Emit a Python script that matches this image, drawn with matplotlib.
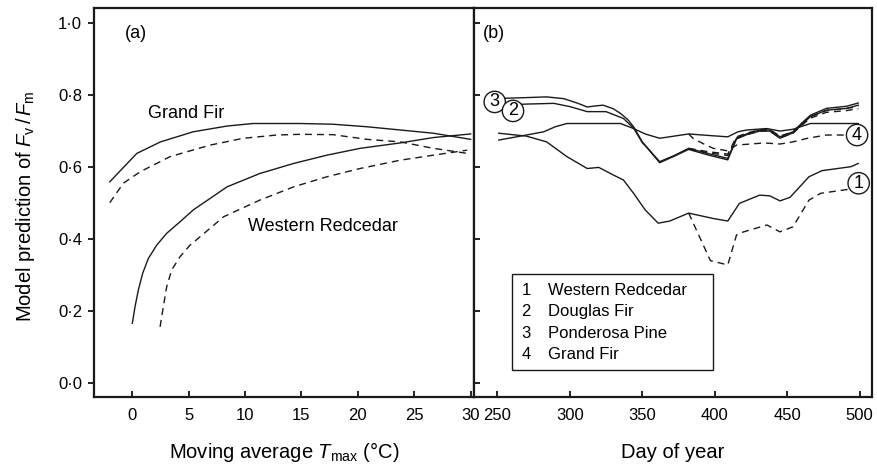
import matplotlib
matplotlib.use("Agg")
import matplotlib.pyplot as plt
from matplotlib.patches import Rectangle
from matplotlib.ticker import FuncFormatter

plt.rcParams['font.family'] = ['Liberation Sans', 'DejaVu Sans']
plt.rcParams['mathtext.fontset'] = 'custom'
plt.rcParams['mathtext.rm'] = 'Liberation Sans'
plt.rcParams['mathtext.it'] = 'Liberation Sans:italic'

# ---------------- Panel (a) data ----------------
gf_solid_t = [-2.0, -1.0, 0.4, 2.5, 5.4, 8.4, 10.7, 14.9, 17.8, 20.8, 23.75, 26.7, 30.0]
gf_solid_v = [0.559, 0.592, 0.638, 0.670, 0.698, 0.714, 0.721, 0.721, 0.719, 0.712, 0.703, 0.694, 0.677]

gf_dash_t = [-2.0, -0.8, 0.7, 3.35, 6.9, 9.85, 12.8, 14.9, 17.8, 20.8, 23.75, 26.7, 29.7]
gf_dash_v = [0.501, 0.555, 0.587, 0.629, 0.661, 0.680, 0.689, 0.691, 0.690, 0.677, 0.670, 0.652, 0.638]

wr_solid_t = [0.0, 0.24, 0.53, 0.92, 1.42, 2.16, 3.05, 4.23, 5.41, 8.4, 11.3, 14.3, 17.25, 20.2, 23.75, 26.7, 30.0]
wr_solid_v = [0.166, 0.212, 0.258, 0.305, 0.346, 0.383, 0.416, 0.448, 0.481, 0.545, 0.582, 0.610, 0.633, 0.652, 0.667, 0.682, 0.692]

wr_dash_t = [2.46, 2.75, 3.05, 3.49, 4.23, 5.12, 6.0, 8.1, 11.3, 14.3, 17.25, 20.2, 23.75, 26.7, 29.7]
wr_dash_v = [0.156, 0.212, 0.268, 0.314, 0.351, 0.383, 0.406, 0.462, 0.508, 0.545, 0.573, 0.596, 0.619, 0.633, 0.647]

# ---------------- Panel (b) data ----------------
pp_days = [254, 270, 284, 296, 305, 312, 318, 323, 330, 335, 340, 344, 350, 353, 362, 372, 382, 395, 409, 415, 422, 431, 438, 445, 454, 460, 466, 477, 491, 499]
pp_solid = [0.791, 0.793, 0.795, 0.790, 0.778, 0.767, 0.770, 0.772, 0.762, 0.749, 0.732, 0.712, 0.670, 0.656, 0.615, 0.632, 0.652, 0.638, 0.624, 0.680, 0.692, 0.703, 0.703, 0.684, 0.698, 0.722, 0.744, 0.763, 0.769, 0.778]
pp_dash_days = [382, 395, 409, 415, 422, 431, 438, 445, 454, 460, 466, 477, 491, 499]
pp_dash = [0.652, 0.643, 0.636, 0.684, 0.694, 0.704, 0.704, 0.686, 0.698, 0.720, 0.740, 0.757, 0.763, 0.768]

df_days = [254, 270, 289, 300, 312, 325, 337, 344, 350, 353, 362, 372, 382, 395, 409, 415, 422, 431, 438, 445, 454, 460, 466, 477, 491, 499]
df_solid = [0.772, 0.775, 0.777, 0.768, 0.754, 0.754, 0.735, 0.708, 0.668, 0.655, 0.612, 0.630, 0.649, 0.634, 0.620, 0.678, 0.690, 0.700, 0.700, 0.680, 0.695, 0.718, 0.740, 0.758, 0.763, 0.772]
df_dash_days = [382, 395, 409, 415, 422, 431, 438, 445, 454, 460, 466, 477, 491, 499]
df_dash = [0.650, 0.640, 0.632, 0.682, 0.690, 0.700, 0.700, 0.682, 0.694, 0.716, 0.736, 0.752, 0.757, 0.762]

gfb_days = [251, 270, 282, 290, 298, 320, 335, 344, 352, 362, 372, 382, 395, 409, 416, 422, 436, 445, 454, 466, 499]
gfb_solid = [0.675, 0.689, 0.698, 0.712, 0.721, 0.721, 0.721, 0.707, 0.692, 0.680, 0.686, 0.692, 0.688, 0.684, 0.698, 0.703, 0.707, 0.700, 0.705, 0.721, 0.721]
gfb_dash_days = [382, 385, 392, 399, 409, 415, 434, 445, 454, 464, 477, 491]
gfb_dash = [0.692, 0.680, 0.665, 0.652, 0.645, 0.661, 0.667, 0.664, 0.670, 0.680, 0.689, 0.689]

wrb_days = [251, 270, 284, 298, 312, 320, 330, 337, 344, 352, 361, 369, 382, 399, 409, 417, 431, 438, 445, 452, 465, 474, 494, 499]
wrb_solid = [0.694, 0.686, 0.670, 0.629, 0.596, 0.599, 0.578, 0.564, 0.527, 0.481, 0.444, 0.450, 0.472, 0.457, 0.450, 0.499, 0.522, 0.520, 0.506, 0.516, 0.573, 0.590, 0.601, 0.610]
wrb_dash_days = [382, 397, 409, 415, 420, 436, 445, 454, 465, 473, 492]
wrb_dash = [0.472, 0.340, 0.328, 0.411, 0.420, 0.439, 0.420, 0.434, 0.508, 0.527, 0.538]

legend_nums = ['1', '2', '3', '4']
legend_names = ['Western Redcedar', 'Douglas Fir', 'Ponderosa Pine', 'Grand Fir']

yticks = [0.0, 0.2, 0.4, 0.6, 0.8, 1.0]
xticks_a = [0, 5, 10, 15, 20, 25, 30]
xticks_b = [250, 300, 350, 400, 450, 500]

# ---------------- Figure ----------------
fig = plt.figure(figsize=(8.77, 4.66), dpi=100)
L, R, B, T = 94/877, 872/877, (466-397)/466, (466-8)/466
mid = 474/877
axa = fig.add_axes([L, B, mid - L, T - B])
axb = fig.add_axes([mid, B, R - mid, T - B])

lw = 1.0
dash = (5, 3.6)
col = '#1a1a1a'

axa.plot(gf_solid_t, gf_solid_v, color=col, lw=lw)
axa.plot(gf_dash_t, gf_dash_v, color=col, lw=lw, dashes=dash)
axa.plot(wr_solid_t, wr_solid_v, color=col, lw=lw)
axa.plot(wr_dash_t, wr_dash_v, color=col, lw=lw, dashes=dash)

axb.plot(pp_days, pp_solid, color=col, lw=lw)
axb.plot(pp_dash_days, pp_dash, color=col, lw=lw, dashes=dash)
axb.plot(df_days, df_solid, color=col, lw=lw)
axb.plot(df_dash_days, df_dash, color=col, lw=lw, dashes=dash)
axb.plot(gfb_days, gfb_solid, color=col, lw=lw)
axb.plot(gfb_dash_days, gfb_dash, color=col, lw=lw, dashes=dash)
axb.plot(wrb_days, wrb_solid, color=col, lw=lw)
axb.plot(wrb_dash_days, wrb_dash, color=col, lw=lw, dashes=dash)

ymin, ymax = -0.039, 1.042
for ax in (axa, axb):
    ax.set_ylim(ymin, ymax)
    ax.set_yticks(yticks)
    for s in ax.spines.values():
        s.set_linewidth(1.6)
        s.set_color(col)
axa.set_xlim(-3.4, 30.3)
axb.set_xlim(233.9, 508.5)
axa.set_xticks(xticks_a)
axb.set_xticks(xticks_b)

fmt = FuncFormatter(lambda v, p: ('%.1f' % v).replace('.', '\u00b7'))
axa.yaxis.set_major_formatter(fmt)
axa.tick_params(axis='y', direction='out', length=4, width=1.2, pad=4.5, labelsize=12)
axa.tick_params(axis='x', direction='in', length=4.5, width=1.2, pad=8, labelsize=12)
axb.tick_params(axis='y', direction='in', length=4.5, width=1.2, labelleft=False)
axb.tick_params(axis='x', direction='in', length=4.5, width=1.2, pad=8, labelsize=12)

axa.set_xlabel(r'Moving average $T_{\mathrm{max}}$ ($\degree$C)', fontsize=14.5, va='center')
axa.xaxis.set_label_coords(0.5, (397-452)/389)
axb.set_xlabel('Day of year', fontsize=14.5, va='center')
axb.xaxis.set_label_coords(0.5, (397-452)/389)
axa.set_ylabel(r'Model prediction of $F_{\mathrm{v}}\,/\,F_{\mathrm{m}}$', fontsize=14.5, va='center')
axa.yaxis.set_label_coords(-0.18, 0.49)

axa.text(0.08, 0.935, '(a)', transform=axa.transAxes, fontsize=13, ha='left', va='center')
axb.text(0.022, 0.935, '(b)', transform=axb.transAxes, fontsize=13, ha='left', va='center')

axa.text(4.75, 0.75, 'Grand Fir', fontsize=13, ha='center', va='center')
axa.text(10.3, 0.434, 'Western Redcedar', fontsize=13, ha='left', va='center')

# circled labels
circ = dict(boxstyle='circle,pad=0.12', fc='white', ec=col, lw=1.0)
for lab, x, y in [('3', 248.2, 0.781), ('2', 260.8, 0.756), ('4', 498.2, 0.689), ('1', 499.3, 0.555)]:
    axb.text(x, y, lab, fontsize=13, ha='center', va='center', bbox=circ, zorder=5)

# legend box
axb.add_patch(Rectangle((0.0962, 0.0694), 0.600 - 0.0962, 0.3154 - 0.0694,
                        transform=axb.transAxes, fill=False, ec=col, lw=1.0))
rows = [0.275, 0.219, 0.164, 0.108]
for n, name, yy in zip(legend_nums, legend_names, rows):
    axb.text(0.119, yy, n, transform=axb.transAxes, fontsize=12, ha='left', va='center')
    axb.text(0.1867, yy, name, transform=axb.transAxes, fontsize=12, ha='left', va='center')

fig.savefig('out.png', dpi=100)
